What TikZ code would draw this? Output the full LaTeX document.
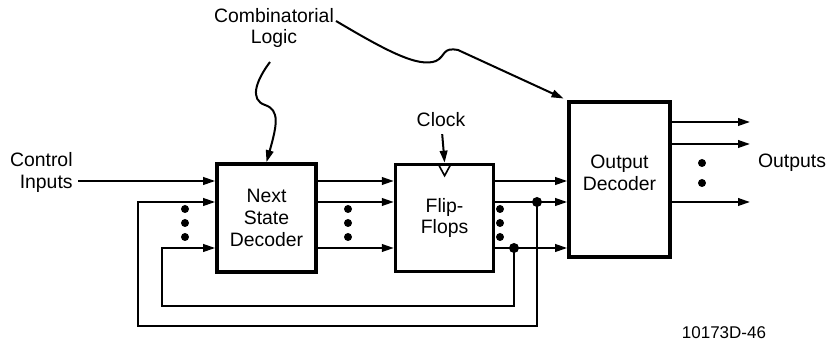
\documentclass[tikz,border=0pt]{standalone}
\usepackage{fontspec}
\setmainfont{Liberation Sans}
\usetikzlibrary{arrows.meta,positioning,calc}

\begin{document}
\begin{tikzpicture}[x=0.5pt, y=-0.5pt, font=\fontsize{9.7}{10.8}\selectfont,
  box/.style={draw, line width=1.8pt, align=center, inner sep=0pt},
  arr/.style={-{Triangle[length=6pt,width=3.8pt]}, line width=1pt},
  joint/.style={circle, fill, inner sep=0pt, minimum size=5pt}]
\useasboundingbox (0,0) rectangle (827,341);
% blocks
\node[box, minimum width=49.5pt, minimum height=54pt] (nsd) at (266.5,218) {Next\\State\\Decoder};
\node[box, minimum width=49pt, minimum height=53.5pt, right=38pt of nsd] (ff) {Flip-\\Flops};
\node[box, minimum width=50.5pt, minimum height=77.5pt] (od) at (619.5,179.5) {};
\node[align=center] (odtext) at (619.5,173) {Output\\Decoder};
% labels
\node[align=right, anchor=east, inner sep=0pt] (ctrl) at (73,172.5) {Control\\Inputs};
\node[align=center] (comb) at (274,28) {Combinatorial\\Logic};
\node (clk) at (441,120) {Clock};
\node (outs) at (792,163) {Outputs};
\node[font=\fontsize{8.5}{10}\selectfont] (code) at (724,333) {10173D-46};
% rows and turning points
\coordinate (r1) at (0,181);
\coordinate (r2) at (0,202);
\coordinate (r3) at (0,248);
\coordinate (ci) at (78,181);
\coordinate (fbaturn) at (138,326);
\coordinate (fbbturn) at (162,306);
\coordinate (o1) at (750,122);
\coordinate (o2) at (750,144);
\coordinate (o3) at (750,202);
\coordinate (c1s) at (270,62);
\coordinate (c2s) at (336,21);
\node[joint] (ja) at (537,202) {};
\node[joint] (jb) at (514,248) {};
% signal lines
\draw[arr] (ci) -- (nsd.west |- r1);
\foreach \r in {r1,r2,r3} {
  \draw[arr] (nsd.east |- \r) -- (ff.west |- \r);
  \draw[arr] (ff.east |- \r) -- (od.west |- \r);
}
\foreach \o in {o1,o2,o3}
  \draw[arr] (od.east |- \o) -- (\o);
% feedback
\draw[arr] (ja.center) |- (fbaturn) |- (nsd.west |- r2);
\draw[arr] (jb.center) |- (fbbturn) |- (nsd.west |- r3);
% clock
\draw[arr] (clk) -- (ff.north);
\draw[line width=0.8pt] ([xshift=-3pt,yshift=-1pt]ff.north) -- ([xshift=3pt,yshift=-1pt]ff.north) -- ([yshift=-6.5pt]ff.north) -- cycle;
% ellipsis dots
\foreach \x in {185,348,500}
  \foreach \y in {209,223,237}
    \fill (\x,\y) circle (2pt);
\foreach \y in {163,183}
  \fill (702,\y) circle (2pt);
% pointers to the logic
\draw[arr] (c1s) .. controls (255,82) and (250,100) .. (265,105) .. controls (280,110) and (277,125) .. (nsd.north);
\draw[arr, shorten >=2pt] (c2s) .. controls (385,50) and (418,68) .. (436,61) .. controls (446,56) and (442,47) .. (458,50) -- (od.north west);
\end{tikzpicture}
\end{document}
